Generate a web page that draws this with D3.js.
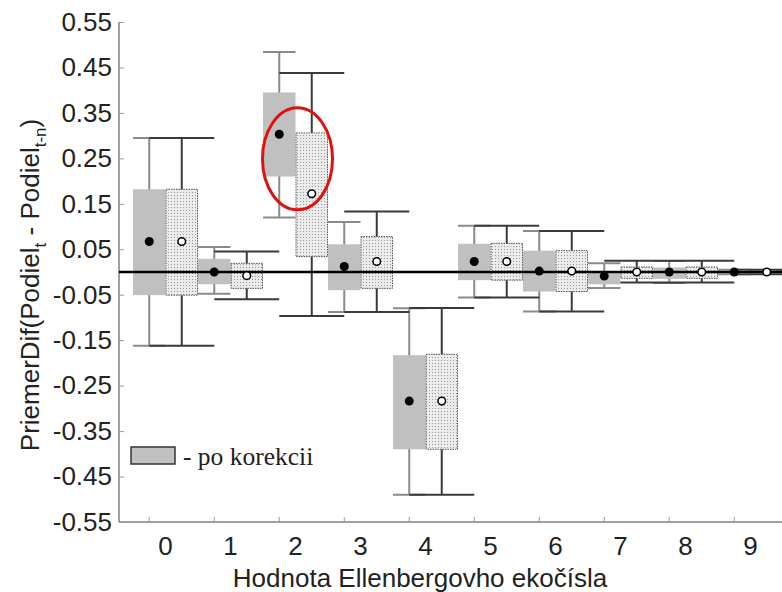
<!DOCTYPE html>
<html><head><meta charset="utf-8">
<script src="https://cdn.jsdelivr.net/npm/d3@7/dist/d3.min.js"></script>
<style>html,body{margin:0;padding:0;background:#fff;}</style>
</head><body>
<script>
const categories = ["0","1","2","3","4","5","6","7","8","9"];
// "po korekcii" series (solid grey box, filled dot)
const corrMean   = [0.067, 0.000, 0.303, 0.012, -0.284, 0.023, 0.002, -0.009, 0.000, 0.000];
const corrBoxHi  = [0.182, 0.029, 0.395, 0.061, -0.183, 0.062, 0.047, 0.002, 0.010, 0.003];
const corrBoxLo  = [-0.051, -0.027, 0.210, -0.040, -0.390, -0.018, -0.043, -0.027, -0.015, -0.003];
const corrWhHi   = [0.295, 0.055, 0.484, 0.110, -0.080, 0.102, 0.090, 0.019, 0.024, 0.005];
const corrWhLo   = [-0.162, -0.048, 0.120, -0.088, -0.490, -0.056, -0.087, -0.035, -0.024, -0.005];
// original series (dotted box, open dot)
const origMean   = [0.067, -0.008, 0.172, 0.023, -0.284, 0.023, 0.002, 0.000, 0.000, 0.000];
const origBoxHi  = [0.182, 0.019, 0.306, 0.078, -0.181, 0.063, 0.047, 0.011, 0.011, 0.003];
const origBoxLo  = [-0.051, -0.036, 0.034, -0.036, -0.390, -0.018, -0.043, -0.014, -0.014, -0.003];
const origWhHi   = [0.295, 0.045, 0.438, 0.133, -0.079, 0.102, 0.090, 0.025, 0.025, 0.005];
const origWhLo   = [-0.162, -0.060, -0.097, -0.088, -0.490, -0.056, -0.087, -0.023, -0.023, -0.005];
const yTicks = [0.55, 0.45, 0.35, 0.25, 0.15, 0.05, -0.05, -0.15, -0.25, -0.35, -0.45, -0.55];
const xTitle = "Hodnota Ellenbergovho ekočísla";
const legendLabel = "- po korekcii";

const W = 782, H = 592;
const FS = 26;
const svg = d3.select("body").append("svg").attr("width", W).attr("height", H)
  .style("font-family", "'Liberation Sans', Arial, sans-serif");

const defs = svg.append("defs");
const pat = defs.append("pattern").attr("id","dots").attr("patternUnits","userSpaceOnUse")
  .attr("width",3).attr("height",3);
pat.append("rect").attr("width",3).attr("height",3).attr("fill","#ebebeb");
pat.append("rect").attr("width",1).attr("height",1).attr("fill","#9a9a9a");

const y = d3.scaleLinear().domain([-0.55, 0.55]).range([522, 22]);
const x = d3.scaleBand().domain(categories).range([133, 783]).padding(0);
const bw = x.bandwidth(), hw = bw / 2;
const spineX = 119;

// axes spines
svg.append("line").attr("x1", spineX).attr("x2", spineX).attr("y1", y(0.55)).attr("y2", y(-0.55))
  .attr("stroke", "#808080").attr("stroke-width", 1.5);
svg.append("line").attr("x1", spineX).attr("x2", W).attr("y1", y(-0.55)).attr("y2", y(-0.55))
  .attr("stroke", "#808080").attr("stroke-width", 1.5);

// y axis
const fmt = v => d3.format(".2f")(v).replace("\u2212", "-");
const yAxis = svg.append("g").attr("transform", `translate(${spineX},0)`)
  .call(d3.axisLeft(y).tickValues(yTicks).tickFormat(fmt).tickSizeInner(-5).tickSizeOuter(0).tickPadding(7));
yAxis.select(".domain").remove();
yAxis.selectAll(".tick line").attr("stroke", "#999");
yAxis.selectAll(".tick text").attr("font-size", FS).attr("fill", "#222")
  .attr("font-family", "'Liberation Sans', Arial, sans-serif");

// x axis labels (category centers) and ticks (at corrected box centres)
const xAxis = svg.append("g").attr("transform", `translate(0,${y(-0.55)})`)
  .call(d3.axisBottom(x).tickSize(0).tickPadding(15));
xAxis.select(".domain").remove();
xAxis.selectAll(".tick text").attr("font-size", FS).attr("fill", "#222")
  .attr("font-family", "'Liberation Sans', Arial, sans-serif");
svg.append("g").selectAll("line").data(categories).join("line")
  .attr("x1", d => x(d) + hw / 2).attr("x2", d => x(d) + hw / 2)
  .attr("y1", y(-0.55)).attr("y2", y(-0.55) - 5)
  .attr("stroke", "#999");

// axis titles
svg.append("text").attr("x", 420).attr("y", 587).attr("text-anchor", "middle")
  .attr("font-size", FS).attr("fill", "#222").text(xTitle);
const yt = svg.append("text").attr("transform", "translate(39,285) rotate(-90)")
  .attr("text-anchor", "middle").attr("font-size", FS).attr("fill", "#222");
yt.append("tspan").text("PriemerDif(Podiel");
yt.append("tspan").attr("font-size", 17).attr("dy", 7).text("t");
yt.append("tspan").attr("dy", -7).text(" - Podiel");
yt.append("tspan").attr("font-size", 17).attr("dy", 7).text("t-n");
yt.append("tspan").attr("dy", -7).text(")");

const idx = d3.range(categories.length);
const gC = d => x(categories[d]) + hw / 2;       // corrected box center
const gO = d => x(categories[d]) + hw + hw / 2;  // original box center

// whiskers - corrected (lighter)
const wc = svg.append("g").attr("stroke", "#8a8a8a").attr("stroke-width", 2);
wc.selectAll(".v").data(idx).join("line")
  .attr("x1", gC).attr("x2", gC).attr("y1", d => y(corrWhHi[d])).attr("y2", d => y(corrWhLo[d]));
wc.selectAll(".t").data(idx).join("line")
  .attr("x1", d => gC(d) - hw / 2).attr("x2", d => gC(d) + hw / 2)
  .attr("y1", d => y(corrWhHi[d])).attr("y2", d => y(corrWhHi[d]));
wc.selectAll(".b").data(idx).join("line")
  .attr("x1", d => gC(d) - hw / 2).attr("x2", d => gC(d) + hw / 2)
  .attr("y1", d => y(corrWhLo[d])).attr("y2", d => y(corrWhLo[d]));

// whiskers - original (dark)
const wo = svg.append("g").attr("stroke", "#3a3a3a").attr("stroke-width", 2);
wo.selectAll(".v").data(idx).join("line")
  .attr("x1", gO).attr("x2", gO).attr("y1", d => y(origWhHi[d])).attr("y2", d => y(origWhLo[d]));
wo.selectAll(".t").data(idx).join("line")
  .attr("x1", d => gO(d) - hw).attr("x2", d => gO(d) + hw)
  .attr("y1", d => y(origWhHi[d])).attr("y2", d => y(origWhHi[d]));
wo.selectAll(".b").data(idx).join("line")
  .attr("x1", d => gO(d) - hw).attr("x2", d => gO(d) + hw)
  .attr("y1", d => y(origWhLo[d])).attr("y2", d => y(origWhLo[d]));

// boxes
svg.append("g").selectAll("rect").data(idx).join("rect")
  .attr("x", d => x(categories[d])).attr("width", hw)
  .attr("y", d => y(corrBoxHi[d])).attr("height", d => y(corrBoxLo[d]) - y(corrBoxHi[d]))
  .attr("fill", "#c0c0c0");
svg.append("g").selectAll("rect").data(idx).join("rect")
  .attr("x", d => x(categories[d]) + hw + 0.5).attr("width", hw - 1)
  .attr("y", d => y(origBoxHi[d])).attr("height", d => y(origBoxLo[d]) - y(origBoxHi[d]))
  .attr("fill", "url(#dots)").attr("stroke", "#555").attr("stroke-width", 1)
  .attr("stroke-dasharray", "1.5,1");

// zero line
svg.append("line").attr("x1", spineX).attr("x2", W).attr("y1", y(0)).attr("y2", y(0))
  .attr("stroke", "#000").attr("stroke-width", 2.5);

// dots
svg.append("g").selectAll("circle").data(idx).join("circle")
  .attr("cx", gC).attr("cy", d => y(corrMean[d])).attr("r", 4.5).attr("fill", "#000");
svg.append("g").selectAll("circle").data(idx).join("circle")
  .attr("cx", gO).attr("cy", d => y(origMean[d])).attr("r", 3.8)
  .attr("fill", "#fff").attr("stroke", "#000").attr("stroke-width", 1.5);

// red ellipse highlight around category 2
svg.append("ellipse").attr("cx", x("2") + hw + 2).attr("cy", y(0.249)).attr("rx", 35).attr("ry", 51)
  .attr("fill", "none").attr("stroke", "#e01010").attr("stroke-width", 3);

// legend
svg.append("rect").attr("x", 131).attr("y", 447).attr("width", 44).attr("height", 17)
  .attr("fill", "#c0c0c0").attr("stroke", "#333").attr("stroke-width", 1.5);
svg.append("text").attr("x", 183).attr("y", 465).attr("font-size", 25.5)
  .attr("font-family", "'Liberation Serif', 'Times New Roman', serif").attr("fill", "#222")
  .text(legendLabel);
</script>
</body></html>
